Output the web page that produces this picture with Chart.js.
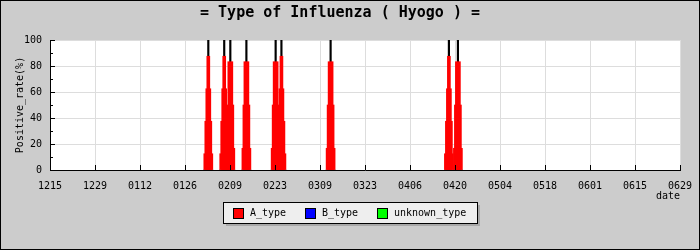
<!DOCTYPE html>
<html>
<head>
<meta charset="utf-8">
<script src="https://cdn.jsdelivr.net/npm/chart.js@4"></script>
<style>
  html, body { margin: 0; padding: 0; background: #cccccc; }
  canvas { display: block; }
</style>
</head>
<body>
<canvas id="myChart" width="700" height="250"></canvas>
<script>
// date ticks, every 14 days starting 12/15
var tickLabels = ["1215", "1229", "0112", "0126", "0209", "0223", "0309", "0323",
                  "0406", "0420", "0504", "0518", "0601", "0615", "0629"];
// position of each report, in days after 1215
var reportDays = [49.25, 54.2, 56.1, 61.1, 70.2, 72.0, 87.3, 124.1, 126.9];
// A_type positive rate, drawn as stepped bars (lowest step first)
var aStep1 = [12.5, 12.5, 16.7, 16.7, 16.7, 12.5, 16.7, 12.5, 16.7];
var aStep2 = [37.5, 37.5, 50, 50, 50, 37.5, 50, 37.5, 50];
var aStep3 = [62.5, 62.5, 83.3, 83.3, 83.3, 62.5, 83.3, 62.5, 83.3];
var aStep4 = [87.5, 87.5, null, null, null, 87.5, null, 87.5, null];
var bType = [0, 0, 0, 0, 0, 0, 0, 0, 0];
var unknownType = [0, 0, 0, 0, 0, 0, 0, 0, 0];
var totalRate = [100, 100, 100, 100, 100, 100, 100, 100, 100];

var seriesNames = ["A_type", "B_type", "unknown_type"];
var seriesColors = ["#ff0000", "#0000ff", "#00ff00"];

var mono = "'DejaVu Sans Mono', monospace";

function pts(values) {
    return values.map(function (v, i) { return { x: reportDays[i], y: v }; });
}

var frame = {
    id: "frame",
    beforeDraw: function (chart) {
        var c = chart.ctx, a = chart.chartArea;
        c.save();
        c.fillStyle = "#cccccc";
        c.fillRect(0, 0, chart.width, chart.height);
        c.fillStyle = "#ffffff";
        c.fillRect(a.left, a.top, a.right - a.left, a.bottom - a.top);
        c.restore();
    },
    afterDatasetsDraw: function (chart) {
        var c = chart.ctx, a = chart.chartArea;
        var xs = chart.scales.x, ys = chart.scales.y;
        c.save();
        c.strokeStyle = "#000";
        c.lineWidth = 1;
        c.beginPath();
        // ticks inside the plot
        xs.ticks.forEach(function (t) {
            var px = Math.round(xs.getPixelForValue(t.value)) + 0.5;
            c.moveTo(px, a.bottom);
            c.lineTo(px, a.bottom - 5);
        });
        for (var v = 0; v <= 100; v += 10) {
            var py = Math.round(ys.getPixelForValue(v)) + 0.5;
            c.moveTo(a.left, py);
            c.lineTo(a.left + (v % 20 === 0 ? 5 : 3), py);
        }
        c.stroke();
        c.restore();
    },
    afterDraw: function (chart) {
        var c = chart.ctx;
        c.save();
        // outer frame
        c.strokeStyle = "#000";
        c.lineWidth = 1;
        c.strokeRect(0.5, 0.5, chart.width - 1, chart.height - 1);
        // legend box with shadow
        var lx = 223, ly = 202, lw = 254, lh = 21;
        c.fillStyle = "#a8a8a8";
        c.fillRect(lx + 3, ly + 3, lw, lh);
        c.fillStyle = "#eeeeee";
        c.fillRect(lx, ly, lw, lh);
        c.strokeRect(lx + 0.5, ly + 0.5, lw, lh);
        var itemX = [233, 305, 377];
        c.font = "10px " + mono;
        c.textBaseline = "middle";
        seriesNames.forEach(function (name, i) {
            c.fillStyle = seriesColors[i];
            c.fillRect(itemX[i], 208, 10, 10);
            c.strokeRect(itemX[i] + 0.5, 208.5, 10, 10);
            c.fillStyle = "#000";
            c.fillText(name, itemX[i] + 17, 213.5);
        });
        c.restore();
    }
};

var stepWidths = [9, 7, 5, 3];

var ctx = document.getElementById("myChart").getContext("2d");
var myChart = new Chart(ctx, {
    type: "bar",
    data: {
        datasets: [
            { label: "A_type", data: pts(aStep4), backgroundColor: seriesColors[0], barThickness: stepWidths[3], grouped: false },
            { label: "A_type", data: pts(aStep3), backgroundColor: seriesColors[0], barThickness: stepWidths[2], grouped: false },
            { label: "A_type", data: pts(aStep2), backgroundColor: seriesColors[0], barThickness: stepWidths[1], grouped: false },
            { label: "A_type", data: pts(aStep1), backgroundColor: seriesColors[0], barThickness: stepWidths[0], grouped: false },
            { label: "B_type", data: pts(bType), backgroundColor: seriesColors[1], barThickness: 9, grouped: false },
            { label: "unknown_type", data: pts(unknownType), backgroundColor: seriesColors[2], barThickness: 9, grouped: false },
            { label: "total", data: pts(totalRate), backgroundColor: "#000000", barThickness: 1.5, grouped: false }
        ]
    },
    options: {
        responsive: false,
        animation: false,
        layout: { padding: { top: 0, right: 20, bottom: 0, left: 0 } },
        plugins: {
            legend: { display: false },
            tooltip: { enabled: false },
            title: {
                display: true,
                text: "= Type of Influenza ( Hyogo ) =",
                color: "#000",
                font: { family: mono, size: 15, weight: "bold" },
                padding: { top: 4, bottom: 18 }
            }
        },
        scales: {
            x: {
                type: "linear",
                min: 0,
                max: 196,
                offset: false,
                afterFit: function (s) { s.height = 80; },
                grid: { color: "#dddddd", drawTicks: true, tickLength: 10, tickColor: "rgba(0,0,0,0)", offset: false },
                border: { color: "#000" },
                ticks: {
                    stepSize: 14,
                    autoSkip: false,
                    maxRotation: 0,
                    color: "#000",
                    padding: 0,
                    font: { family: mono, size: 10 },
                    callback: function (v, i) { return tickLabels[i]; }
                },
                title: {
                    display: true,
                    text: "date",
                    align: "end",
                    color: "#000",
                    font: { family: mono, size: 10 },
                    padding: { top: 0, bottom: 48 }
                }
            },
            y: {
                min: 0,
                max: 100,
                afterFit: function (s) { s.width = 50; },
                grid: { color: "#dddddd", drawTicks: false },
                border: { color: "#000" },
                ticks: {
                    stepSize: 20,
                    color: "#000",
                    padding: 8,
                    font: { family: mono, size: 10 }
                },
                title: {
                    display: true,
                    text: "Positive_rate(%)",
                    color: "#000",
                    font: { family: mono, size: 10 },
                    padding: { top: 14, bottom: 0 }
                }
            }
        }
    },
    plugins: [frame]
});
</script>
</body>
</html>
